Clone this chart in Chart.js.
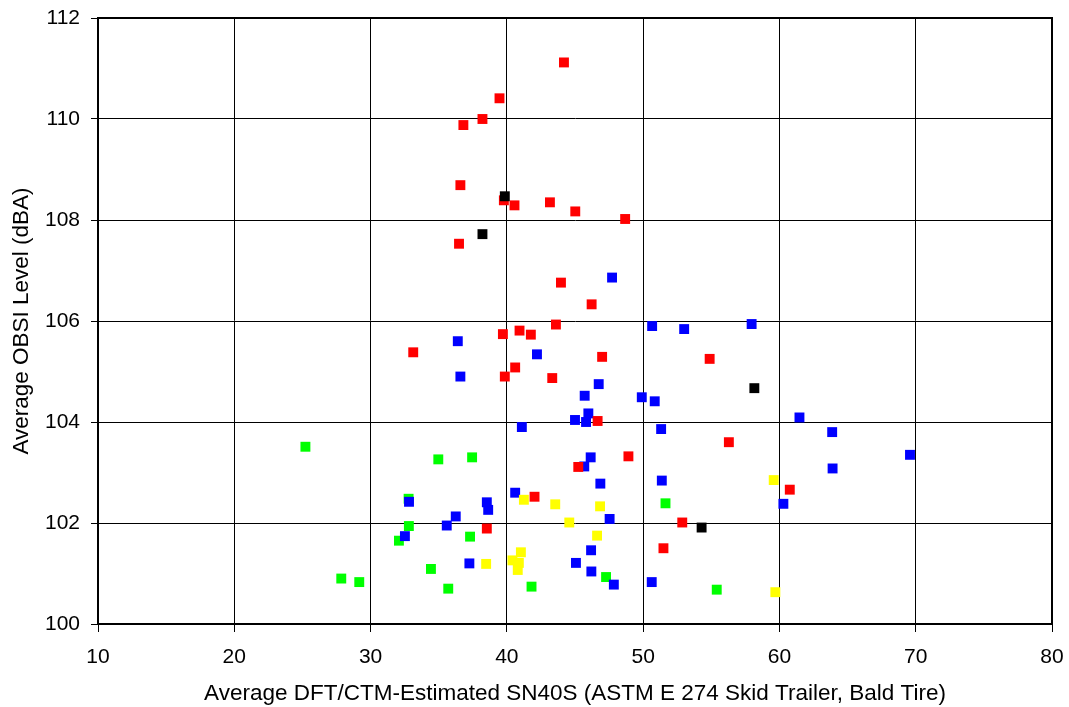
<!DOCTYPE html>
<html>
<head>
<meta charset="utf-8">
<script src="https://cdn.jsdelivr.net/npm/chart.js@4.4.1/dist/chart.umd.min.js"></script>
<style>
    body { margin: 0; background: #fff; }
    #chart_box { width: 1069px; height: 707px; }
</style>
</head>
<body>
<div id="chart_box"><canvas id="ObsiChart"></canvas></div>
<script>
// values, [SN40S, OBSI dBA]
const red_points = [
    [44.19, 111.12], [39.46, 110.41], [38.21, 110.00], [36.81, 109.88], [36.59, 108.69],
    [39.78, 108.39], [40.56, 108.29], [43.16, 108.35], [45.02, 108.17], [48.68, 108.02],
    [36.49, 107.53], [43.97, 106.76], [46.22, 106.33], [43.60, 105.93], [39.71, 105.74],
    [40.93, 105.81], [41.76, 105.73], [33.13, 105.38], [46.99, 105.29], [40.61, 105.08],
    [39.85, 104.90], [43.33, 104.87], [54.88, 105.25], [46.66, 104.02], [56.29, 103.60],
    [48.92, 103.32], [45.24, 103.11], [60.76, 102.66], [42.03, 102.52], [38.53, 101.89],
    [52.87, 102.01], [51.49, 101.50]
];
const black_points = [
    [39.85, 108.47], [38.21, 107.72], [58.16, 104.67], [54.29, 101.91]
];
const blue_points = [
    [47.72, 106.86], [50.66, 105.90], [53.01, 105.84], [57.96, 105.94], [36.40, 105.60],
    [42.21, 105.34], [36.59, 104.90], [46.74, 104.75], [45.71, 104.52], [49.90, 104.49],
    [50.85, 104.41], [45.98, 104.17], [45.00, 104.04], [45.81, 104.00], [61.47, 104.09],
    [63.87, 103.80], [41.10, 103.90], [51.32, 103.86], [69.58, 103.35], [46.15, 103.30],
    [45.68, 103.12], [63.90, 103.08], [46.86, 102.78], [51.37, 102.84], [40.61, 102.60],
    [32.82, 102.42], [38.53, 102.41], [38.63, 102.26], [47.54, 102.08], [36.25, 102.13],
    [60.29, 102.38], [35.59, 101.95], [32.52, 101.74], [46.18, 101.46], [37.25, 101.20],
    [45.07, 101.21], [46.20, 101.04], [47.85, 100.78], [50.63, 100.83]
];
const green_points = [
    [25.22, 103.51], [34.97, 103.26], [37.45, 103.30], [32.79, 102.48], [32.81, 101.94],
    [32.08, 101.65], [37.30, 101.73], [51.64, 102.39], [27.85, 100.90], [29.17, 100.83],
    [34.43, 101.09], [35.70, 100.70], [41.81, 100.74], [47.28, 100.93], [55.40, 100.68]
];
const yellow_points = [
    [38.48, 101.19], [41.25, 102.46], [43.55, 102.37], [44.58, 102.01], [46.84, 102.33],
    [46.62, 101.75], [41.03, 101.42], [40.41, 101.26], [40.88, 101.21], [40.80, 101.07],
    [59.58, 102.85], [59.70, 100.63]
];

const x_title = 'Average DFT/CTM-Estimated SN40S (ASTM E 274 Skid Trailer, Bald Tire)';
const y_title = 'Average OBSI Level (dBA)';

function to_xy(points){
    return points.map(p => ({x: p[0], y: p[1]}));
}

function make_set(label, points, colour){
    return {
        label: label,
        data: to_xy(points),
        backgroundColor: colour,
        borderColor: colour,
        borderWidth: 0,
        pointStyle: 'rect',
        pointRadius: 7,
        pointHoverRadius: 7
    };
}

// top and right frame lines of the plot box
const frame_plugin = {
    id: 'frame',
    beforeDatasetsDraw(chart){
        const a = chart.chartArea;
        const ctx = chart.ctx;
        ctx.save();
        ctx.strokeStyle = '#000';
        ctx.lineWidth = 2;
        ctx.beginPath();
        ctx.moveTo(a.left, a.top);
        ctx.lineTo(a.right, a.top);
        ctx.lineTo(a.right, a.bottom);
        ctx.stroke();
        ctx.restore();
    }
};

Chart.defaults.font.family = '"Liberation Sans", Arial, sans-serif';
Chart.defaults.color = '#000';

const ctx = document.getElementById('ObsiChart').getContext('2d');
const chart = new Chart(ctx, {
    type: 'scatter',
    data: {
        datasets: [
            make_set('black', black_points, '#000000'),
            make_set('red', red_points, '#FF0000'),
            make_set('yellow', yellow_points, '#FFFF00'),
            make_set('blue', blue_points, '#0000FF'),
            make_set('green', green_points, '#00FF00')
        ]
    },
    options: {
        responsive: true,
        maintainAspectRatio: false,
        animation: false,
        layout: { padding: { top: 18, right: 17, left: 0, bottom: 0 } },
        plugins: {
            legend: { display: false },
            tooltip: { enabled: false }
        },
        scales: {
            x: {
                type: 'linear',
                min: 10,
                max: 80,
                ticks: { stepSize: 10, padding: 13, font: { size: 21 } },
                grid: { color: '#000', lineWidth: 1, tickLength: 8, tickColor: '#000' },
                border: { color: '#000', width: 2 },
                title: { display: true, text: x_title, font: { size: 22.5 }, padding: { top: 0, bottom: 0 } },
                afterFit(scale){
                    scale.height = 83;
                    scale.paddingLeft = 0;
                    scale.paddingRight = 0;
                }
            },
            y: {
                min: 100,
                max: 112,
                ticks: { stepSize: 2, padding: 11, font: { size: 21 } },
                grid: { color: '#000', lineWidth: 1, tickLength: 7, tickColor: '#000' },
                border: { color: '#000', width: 2 },
                title: { display: true, text: y_title, font: { size: 22.5 }, padding: { top: 8, bottom: 0 } },
                afterFit(scale){
                    scale.width = 98;
                    scale.paddingTop = 0;
                    scale.paddingBottom = 0;
                }
            }
        }
    },
    plugins: [frame_plugin]
});
</script>
</body>
</html>
